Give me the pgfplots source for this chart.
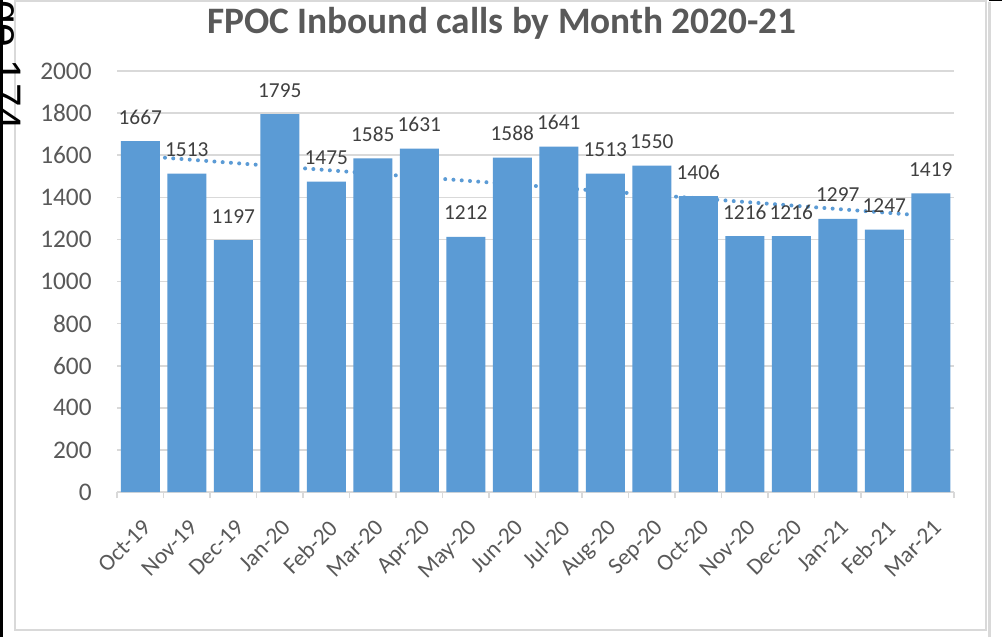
\documentclass[border=0pt]{standalone}
\usepackage{fontspec}
\setmainfont{Carlito}
\newfontfamily\arialfont{Liberation Sans}
\usepackage{pgfplots}
\pgfplotsset{compat=1.18}
\definecolor{barblue}{HTML}{5B9BD5}
\definecolor{gridgray}{HTML}{D9D9D9}
\definecolor{tickgray}{HTML}{595959}
\definecolor{labgray}{HTML}{404040}
\begin{document}
\begin{tikzpicture}
\useasboundingbox (0pt,0pt) rectangle (751.5pt,477.75pt);
\fill[white] (0pt,0pt) rectangle (751.5pt,477.75pt);
% frame
\draw[gridgray, line width=1.3pt] (11.25pt,477pt) rectangle (739.5pt,5.25pt);
\draw[gridgray, line width=1.8pt] (742.1pt,0pt) -- (742.1pt,476.25pt);
\draw[black, line width=1.2pt] (741.75pt,477.4pt) -- (751.5pt,477.4pt);
\fill[black] (0pt,0pt) rectangle (2.25pt,477.75pt);
\node[rotate=-90, anchor=base east, inner sep=0pt, font=\arialfont\fontsize{32}{36}\selectfont] at (-6pt,379.5pt) {Page 174};
% title
\node[anchor=base, inner sep=0pt, text=tickgray, font=\bfseries\fontsize{28}{32}\selectfont] at (376.5pt,452.5pt) {FPOC Inbound calls by Month 2020-21};
\begin{axis}[
  at={(87.75pt,108.75pt)}, anchor=south west,
  scale only axis, width=627.75pt, height=315.75pt,
  xmin=-0.5, xmax=17.5, ymin=0, ymax=2000,
  clip=false,
  xtick={0,...,17},
  xticklabels={Oct-19,Nov-19,Dec-19,Jan-20,Feb-20,Mar-20,Apr-20,May-20,Jun-20,Jul-20,Aug-20,Sep-20,Oct-20,Nov-20,Dec-20,Jan-21,Feb-21,Mar-21},
  minor xtick={-0.5,0.5,...,17.5},
  ytick={0,200,...,2000},
  ymajorgrids,
  grid style={gridgray, line width=1.2pt},
  axis x line=bottom, axis y line=left,
  x axis line style={gridgray, line width=1.3pt, -},
  y axis line style={draw=none},
  tick align=outside,
  major tick length=0pt,
  minor tick length=4.5pt,
  minor tick style={gridgray, line width=1.2pt},
  /pgf/number format/assume math mode=true,
  /pgf/number format/1000 sep={},
  yticklabel style={font=\fontsize{19}{22}\selectfont, text=tickgray, xshift=-15.5pt},
  xticklabel style={font=\fontsize{17.5}{20}\selectfont, text=tickgray, rotate=45, anchor=north east, xshift=-10pt, yshift=-11pt},
]
\addplot[barblue, line width=3pt, line cap=round, dash pattern=on 0pt off 6.2pt, sharp plot, forget plot] coordinates {(0,1596.9) (17,1310.7)};
\addplot[ybar, bar width=29.25pt, fill=barblue, draw=none,
  nodes near coords,
  every node near coord/.append style={font=\fontsize{16}{19}\selectfont, text=labgray, anchor=base, yshift=12.75pt, inner sep=0pt}]
coordinates {(0,1667) (1,1513) (2,1197) (3,1795) (4,1475) (5,1585) (6,1631) (7,1212) (8,1588) (9,1641) (10,1513) (11,1550) (12,1406) (13,1216) (14,1216) (15,1297) (16,1247) (17,1419)};
\end{axis}
\end{tikzpicture}
\end{document}
